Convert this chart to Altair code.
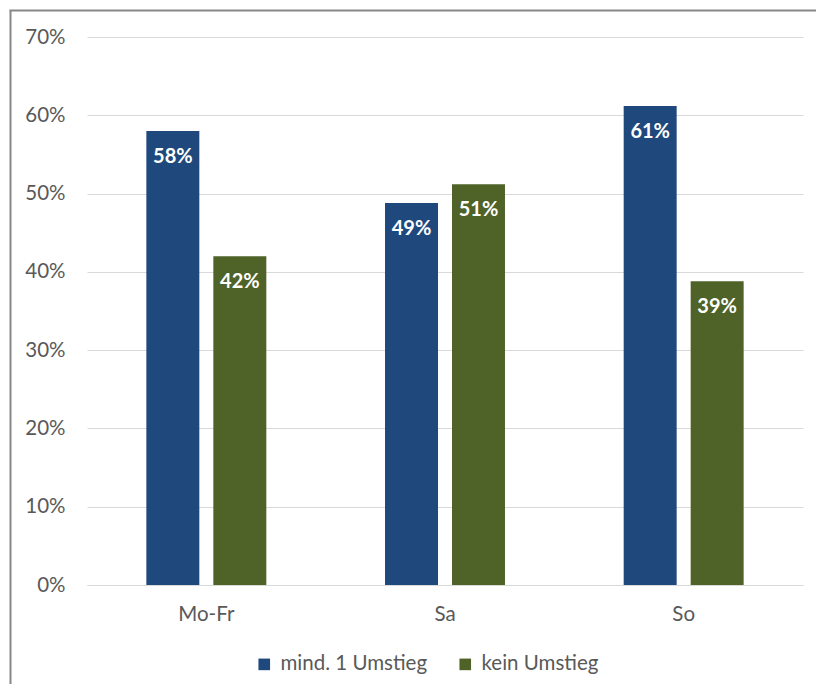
import altair as alt
import pandas as pd

categories = ["Mo-Fr", "Sa", "So"]
series = ["mind. 1 Umstieg", "kein Umstieg"]
mind_1_umstieg = [0.580, 0.488, 0.612]
kein_umstieg = [0.420, 0.512, 0.388]
colors = ["#1F497D", "#4F6228"]
y_ticks = [0, 0.1, 0.2, 0.3, 0.4, 0.5, 0.6, 0.7]

rows = []
for i, c in enumerate(categories):
    rows.append({"Tag": c, "Serie": series[0], "Anteil": mind_1_umstieg[i]})
    rows.append({"Tag": c, "Serie": series[1], "Anteil": kein_umstieg[i]})
df = pd.DataFrame(rows)

FONT = "Lato"
GREY = "#595959"
FS = 20.5

x_enc = alt.X("Tag:N", sort=categories, title=None,
              scale=alt.Scale(paddingInner=0, paddingOuter=0),
              axis=alt.Axis(labelAngle=0, ticks=False, domainColor="#D9D9D9",
                            labelFontSize=FS, labelColor=GREY, labelFont=FONT,
                            labelPadding=19, grid=False))
xoff = alt.XOffset("Serie:N", sort=series,
                   scale=alt.Scale(paddingInner=0.209, paddingOuter=0.886))
y_enc = alt.Y("Anteil:Q", title=None,
              scale=alt.Scale(domain=[0, 0.7], nice=False),
              axis=alt.Axis(format=".0%", values=y_ticks, domain=False, ticks=False,
                            gridColor="#D9D9D9", labelFontSize=FS, labelColor=GREY,
                            labelFont=FONT, labelPadding=22))
color_enc = alt.Color("Serie:N", sort=series,
                      scale=alt.Scale(domain=series, range=colors),
                      legend=alt.Legend(title=None, orient="none", legendX=167, legendY=617,
                                        direction="horizontal", symbolType="square",
                                        symbolSize=135, symbolStrokeWidth=0,
                                        labelFontSize=FS, labelColor=GREY, labelFont=FONT,
                                        labelOffset=6, columnPadding=27))

base = alt.Chart(df)
bars = base.mark_bar().encode(x=x_enc, xOffset=xoff, y=y_enc, color=color_enc)
labels = base.mark_text(color="white", fontWeight="bold", fontSize=20, font=FONT,
                        baseline="alphabetic", align="center", dy=32).encode(
    x=alt.X("Tag:N", sort=categories), xOffset=alt.XOffset("Serie:N", sort=series),
    y="Anteil:Q", text=alt.Text("Anteil:Q", format=".0%"))

frame_df = pd.DataFrame({"k": [0]})
left_border = alt.Chart(frame_df).mark_rule(color="#878787", strokeWidth=2).encode(
    x=alt.value(-76.5), y=alt.value(-26.5), y2=alt.value(700))
top_border = alt.Chart(frame_df).mark_rule(color="#878787", strokeWidth=2).encode(
    x=alt.value(-77.5), x2=alt.value(760), y=alt.value(-26.5))

chart = alt.layer(bars, labels, left_border, top_border).properties(
    width=716, height=548,
    autosize=alt.AutoSizeParams(type="none"),
    padding={"left": 79, "top": 29, "right": 13, "bottom": 99},
).configure_view(stroke=None)

chart.save("out.html", embed_options={"renderer": "svg", "actions": False})
